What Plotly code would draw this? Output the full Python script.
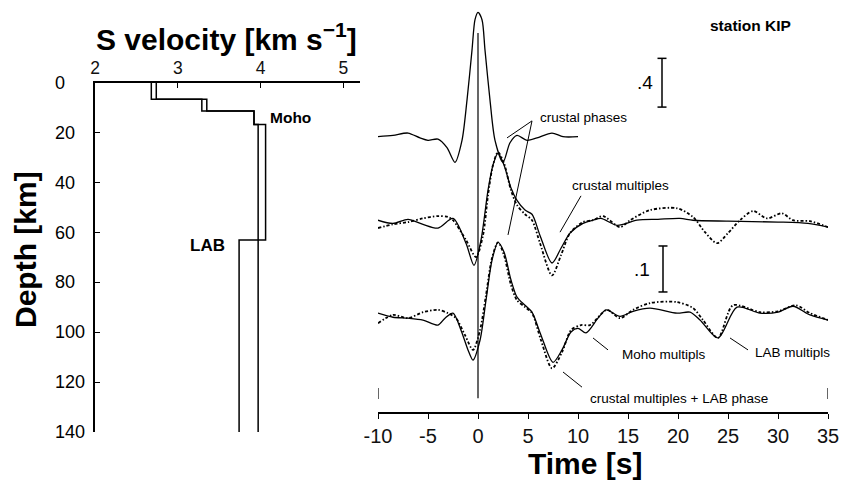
import plotly.graph_objects as go

# ---------------- Left panel: S-velocity models ----------------
layer_top_depth = [0, 6.5, 11.2, 16.6, 63]
bottom_depth = 140
vs_model_lab = [2.68, 3.29, 3.92, 4.06, 3.74]
vs_model_nolab = [2.74, 3.35, 3.92, 3.97, 3.97]
vel_ticks = [2, 3, 4, 5]
depth_ticks = [0, 20, 40, 60, 80, 100, 120, 140]

# ---------------- Right panel: receiver functions ----------------
# top trace (amplitude, plotted with the ".4" scale bar)
t_top = [-10, -8.5, -7, -5.8, -5, -4, -3.1, -2.3, -1.6, -1.1, -0.6, -0.3, 0, 0.4, 0.7,
         1.2, 1.7, 2.5, 3.2, 3.9, 4.9, 5.9, 7.4, 8.5, 10]
amp_top = [0.01, 0.02, 0.04, 0.0, -0.02, -0.01, -0.08, -0.20, -0.02, 0.31, 0.72, 0.97, 1.03,
           0.97, 0.72, 0.31, -0.02, -0.20, -0.04, 0.02, -0.02, 0.0, 0.04, 0.01, 0.01]

# middle pair (".1" scale bar)
t_mid_solid = [-10, -8.5, -7, -5.5, -4, -2.5, -1.2, -0.4, 0.3, 1.0, 1.5, 2.0, 2.6, 3.3, 3.9,
               4.7, 5.4, 6.2, 7.4, 8.3, 9.2, 10.5, 11.5, 12.3, 13.9, 15.9, 18, 20.2, 21.5,
               25, 30, 33, 35]
amp_mid_solid = [0, -0.007, 0.002, -0.009, -0.017, 0.004, -0.050, -0.098, -0.043, 0.065,
                 0.120, 0.146, 0.120, 0.070, 0.043, 0.022, 0.013, -0.033, -0.093, -0.061,
                 -0.028, -0.007, 0.0, 0.004, -0.011, 0.0, 0.002, 0.004, 0.0, -0.002, -0.004,
                 -0.007, -0.015]
t_mid_dash = [-10, -8.5, -7, -5.5, -4, -3, -2.5, -1.2, -0.2, 0.5, 1.0, 1.5, 2.0, 2.6, 3.3,
              3.9, 4.7, 5.4, 6.2, 7.4, 8.3, 9.2, 10.5, 11.5, 12.5, 14.2, 15.2, 17.2, 19.9,
              21.5, 22.7, 23.9, 25, 26.2, 27.5, 28.9, 30.4, 31.5, 33.2, 35]
amp_mid_dash = [-0.017, -0.009, -0.004, 0.004, 0.009, 0.007, 0.0, -0.043, -0.080, -0.033,
                0.054, 0.120, 0.148, 0.124, 0.065, 0.033, 0.013, 0.0, -0.050, -0.120,
                -0.076, -0.028, -0.004, 0.0, 0.009, -0.015, 0.0, 0.022, 0.026, 0.007,
                -0.026, -0.050, -0.028, 0.0, 0.020, 0.004, 0.015, 0.0, -0.002, -0.015]

# bottom pair (".1" scale bar)
t_bot_solid = [-10, -8.5, -7, -5.5, -4, -3.3, -2.5, -1.7, -1.0, -0.5, 0.2, 0.8, 1.4, 2.0,
               2.6, 3.3, 3.9, 4.7, 5.4, 6.3, 7.5, 8.4, 9.3, 10.0, 10.8, 12.0, 12.8, 14.2,
               15.5, 17.2, 19.9, 21.2, 22.2, 24, 25.9, 28.2, 30, 31.5, 33.2, 35]
amp_bot_solid = [0, -0.009, -0.011, -0.015, -0.026, -0.011, 0.0, -0.037, -0.080, -0.102,
                 -0.059, 0.028, 0.115, 0.154, 0.133, 0.072, 0.035, 0.017, 0.002, -0.048,
                 -0.107, -0.080, -0.041, -0.033, -0.043, -0.011, 0.007, -0.007, 0.004,
                 0.011, 0.0, 0.002, -0.015, -0.054, 0.013, 0.0, 0.002, 0.015, -0.004, -0.015]
t_bot_dash = [-10, -8.5, -7, -5.5, -4, -3, -2.2, -1.3, -0.5, 0.2, 0.8, 1.4, 2.0, 2.6, 3.3,
              3.9, 4.7, 5.4, 6.3, 7.4, 8.4, 9.3, 10.3, 11.2, 12.9, 14.2, 15.5, 17.2, 19.9,
              21.5, 22.5, 24, 25.5, 28.2, 30, 31.8, 33.2, 35]
amp_bot_dash = [-0.022, -0.004, -0.011, 0.002, 0.007, 0.0, -0.011, -0.048, -0.080, -0.037,
                0.039, 0.120, 0.154, 0.126, 0.061, 0.028, 0.013, 0.0, -0.059, -0.120,
                -0.085, -0.037, -0.026, -0.026, 0.007, -0.011, 0.007, 0.022, 0.024, 0.011,
                -0.015, -0.054, 0.017, 0.002, 0.004, 0.017, 0.0, -0.015]

time_ticks = [-10, -5, 0, 5, 10, 15, 20, 25, 30, 35]
time_ticklabels = ["-10", "-5", "0", "5", "10", "15", "20", "25", "30", "35"]

# ---------------- layout constants ----------------
W, H = 846, 482
FONT = "Liberation Sans, Arial, sans-serif"
TOP_SCALE = 0.265          # display units per amplitude unit (top trace)
OFF_TOP, OFF_MID, OFF_BOT = 0.596, 0.417, 0.215
Y2_MAX = 0.885


def step_profile(vs):
    bounds = layer_top_depth + [bottom_depth]
    xs, ys = [], []
    for i, v in enumerate(vs):
        xs += [v, v]
        ys += [bounds[i], bounds[i + 1]]
    return xs, ys


fig = go.Figure()

for vs in (vs_model_lab, vs_model_nolab):
    xs, ys = step_profile(vs)
    fig.add_trace(go.Scatter(x=xs, y=ys, mode="lines", xaxis="x", yaxis="y",
                             line=dict(color="black", width=1.5), showlegend=False,
                             hoverinfo="skip"))

solid = dict(color="black", width=1.3)
dashed = dict(color="black", width=1.8, dash="3px,2px,1.5px,2px")


def add_wave(t, a, off, scale, line):
    fig.add_trace(go.Scatter(x=t, y=[off + scale * v for v in a], mode="lines",
                             xaxis="x2", yaxis="y2", line=dict(shape="spline", smoothing=0.8, **line),
                             showlegend=False, hoverinfo="skip"))


add_wave(t_top, amp_top, OFF_TOP, TOP_SCALE, solid)
add_wave(t_mid_dash, amp_mid_dash, OFF_MID, 1.0, dashed)
add_wave(t_mid_solid, amp_mid_solid, OFF_MID, 1.0, solid)
add_wave(t_bot_dash, amp_bot_dash, OFF_BOT, 1.0, dashed)
add_wave(t_bot_solid, amp_bot_solid, OFF_BOT, 1.0, solid)

shapes = []


def seg(x0, y0, x1, y1, w=1.0):
    shapes.append(dict(type="line", xref="x2", yref="y2", x0=x0, y0=y0, x1=x1, y1=y1,
                       line=dict(color="black", width=w)))


# zero-time line and end markers
seg(0, 0.030, 0, 0.824, 1.2)
seg(-10, 0.028, -10, 0.052, 1.2)
seg(35, 0.028, 35, 0.052, 1.2)

# scale bars
for (tb, y0, length) in ((18.4, 0.663, 0.4 * TOP_SCALE), (18.5, 0.261, 0.1)):
    seg(tb, y0, tb, y0 + length, 1.5)
    seg(tb - 0.45, y0, tb + 0.45, y0, 1.5)
    seg(tb - 0.45, y0 + length, tb + 0.45, y0 + length, 1.5)

# leader lines
seg(5.4, 0.633, 2.9, 0.596)
seg(5.4, 0.633, 3.0, 0.385)
seg(10.3, 0.470, 8.2, 0.391)
seg(11.5, 0.161, 13.0, 0.135)
seg(25.2, 0.161, 27.0, 0.135)
seg(8.5, 0.087, 10.4, 0.054)

ann = []


def txt(x, y, s, size, xanchor="left", bold=False, xref="x2", yref="y2", **kw):
    ann.append(dict(x=x, y=y, xref=xref, yref=yref, text=("<b>%s</b>" % s) if bold else s,
                    showarrow=False, xanchor=xanchor, yanchor="middle",
                    font=dict(family=FONT, size=size, color="black"), **kw))


txt(6.0, 0.641, "crustal phases", 13.5)
txt(9.2, 0.4935, "crustal multiples", 13.5)
txt(14.2, 0.124, "Moho multipls", 13.5)
txt(27.5, 0.130, "LAB multipls", 13.5)
txt(11.0, 0.030, "crustal multiples + LAB phase", 13.5)
txt(23.0, 0.841, "station KIP", 15.5, bold=True)
txt(17.65, 0.717, ".4", 19, xanchor="right")
txt(17.35, 0.309, ".1", 19, xanchor="right")

# left panel labels
txt(4.09, 14, "Moho", 15.5, bold=True, xref="x", yref="y")
txt(3.12, 65, "LAB", 17, bold=True, xref="x", yref="y")

# depth tick labels (left aligned, as in the original)
for d in depth_ticks:
    txt(53 / W, d, str(d), 18, xref="paper", yref="y")

# titles
txt(226 / W, 1 - 37 / H, "S velocity [km s<sup>\u22121</sup>]", 30, xanchor="center",
    bold=True, xref="paper", yref="paper")
txt(25 / W, 1 - 250 / H, "Depth [km]", 30, xanchor="center", bold=True,
    xref="paper", yref="paper", textangle=-90)
txt(585 / W, 1 - 463 / H, "Time [s]", 30, xanchor="center", bold=True,
    xref="paper", yref="paper")

axis_common = dict(showgrid=False, zeroline=False, showline=True, linecolor="black",
                   linewidth=1.5, tickcolor="black", tickwidth=1.2, automargin=False,
                   tickfont=dict(family=FONT, size=17.5, color="#111"))

fig.update_layout(
    width=W, height=H, autosize=False,
    margin=dict(l=0, r=0, t=0, b=0, pad=0, autoexpand=False),
    paper_bgcolor="white", plot_bgcolor="white", showlegend=False,
    font=dict(family=FONT, color="black"),
    xaxis=dict(domain=[95 / W, 360 / W], range=[2, 5.2], side="top", anchor="y",
               tickvals=vel_ticks, ticks="inside", ticklen=5, **axis_common),
    yaxis=dict(domain=[1 - 432 / H, 1 - 83 / H], range=[140, 0], anchor="x",
               tickvals=depth_ticks, ticks="inside", ticklen=5, showticklabels=False,
               **axis_common),
    xaxis2=dict(domain=[378 / W, 828 / W], range=[-10, 35], anchor="y2",
                tickvals=time_ticks, ticktext=time_ticklabels, ticks="outside", ticklen=5,
                **{**axis_common, "tickfont": dict(family=FONT, size=20, color="#111")}),
    yaxis2=dict(domain=[1 - 412 / H, 1 - 5 / H], range=[0, Y2_MAX], anchor="x2",
                visible=False, automargin=False),
    shapes=shapes, annotations=ann,
)

fig.write_html(
    "out.html",
    config={"displayModeBar": False, "responsive": False},
    post_script="document.documentElement.style.margin='0';document.documentElement.style.overflow='hidden';"
                "document.body.style.margin='0';document.body.style.padding='0';document.body.style.overflow='hidden';",
)
